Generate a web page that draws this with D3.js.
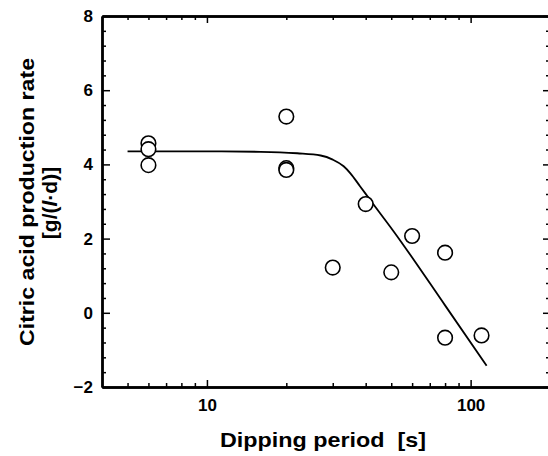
<!DOCTYPE html>
<html lang="en">
<head>
  <meta charset="UTF-8">
  <title>Citric acid production rate</title>
  <script src="https://d3js.org/d3.v7.min.js"></script>
  <style>
    body { margin: 0; background: #fff; }
    text { font-family: "Liberation Sans", Arial, sans-serif; font-weight: bold; fill: #000; }
  </style>
</head>
<body>
  <svg width="548" height="456" id="chart"></svg>
  <script>
    // measured points
    const dipping = [6, 6, 6, 20, 20, 20, 30, 40, 50, 60, 80, 80, 110];
    const rate = [4.57, 4.41, 3.98, 5.29, 3.9, 3.85, 1.22, 2.93, 1.09, 2.07, 1.62, -0.67, -0.61];

    // fitted curve
    const curveX = [5, 10, 16, 22, 27, 30, 33, 35, 38, 41.6, 51, 80, 115];
    const curveY = [4.35, 4.35, 4.34, 4.3, 4.24, 4.13, 3.95, 3.76, 3.42, 3.04, 2.2, 0.2, -1.43];

    // ticks
    const xMajor = [10, 100];
    const xMinor = [5, 6, 7, 8, 9, 20, 30, 40, 50, 60, 70, 80, 90];
    const yMajor = [-2, 0, 2, 4, 6, 8];
    const yMinor = [-1.6, -1.2, -0.8, -0.4, 0.4, 0.8, 1.2, 1.6, 2.4, 2.8, 3.2, 3.6,
      4.4, 4.8, 5.2, 5.6, 6.4, 6.8, 7.2, 7.6];

    const svg = d3.select('#chart');
    const margin = { top: 16, right: -2, bottom: 69, left: 102 };
    const width = +svg.attr('width');
    const height = +svg.attr('height');
    const innerWidth = width - margin.left - margin.right;
    const innerHeight = height - margin.top - margin.bottom;

    const x = d3.scaleLog().domain([4, 200]).range([0, innerWidth]);
    const y = d3.scaleLinear().domain([-2, 8]).range([innerHeight, 0]);

    const g = svg.append('g')
      .attr('transform', `translate(${margin.left}, ${margin.top})`);

    function styleAxis(sel) {
      sel.select('.domain').attr('stroke', '#000').attr('stroke-width', 2.4);
      sel.selectAll('.tick line').attr('stroke', '#000').attr('stroke-width', 1.5);
      sel.selectAll('.tick text').attr('font-size', 17).attr('fill', '#000');
    }

    // bottom
    g.append('g').attr('transform', `translate(0, ${innerHeight})`)
      .call(d3.axisBottom(x).tickValues(xMajor).tickFormat(d3.format('d'))
        .tickSizeInner(-7).tickSizeOuter(0).tickPadding(12))
      .call(styleAxis);
    g.append('g').attr('transform', `translate(0, ${innerHeight})`)
      .call(d3.axisBottom(x).tickValues(xMinor).tickFormat('').tickSizeInner(-4).tickSizeOuter(0))
      .call(styleAxis);

    // top
    g.append('g')
      .call(d3.axisTop(x).tickValues(xMajor).tickFormat('').tickSizeInner(-7).tickSizeOuter(0))
      .call(styleAxis);
    g.append('g')
      .call(d3.axisTop(x).tickValues(xMinor).tickFormat('').tickSizeInner(-4).tickSizeOuter(0))
      .call(styleAxis);

    // left
    g.append('g')
      .call(d3.axisLeft(y).tickValues(yMajor).tickFormat(d3.format('d'))
        .tickSizeInner(-8).tickSizeOuter(0).tickPadding(9))
      .call(styleAxis);
    g.append('g')
      .call(d3.axisLeft(y).tickValues(yMinor).tickFormat('').tickSizeInner(-4).tickSizeOuter(0))
      .call(styleAxis);

    // right
    g.append('g').attr('transform', `translate(${innerWidth}, 0)`)
      .call(d3.axisRight(y).tickValues(yMajor).tickFormat('').tickSizeInner(-7).tickSizeOuter(0))
      .call(styleAxis);
    g.append('g').attr('transform', `translate(${innerWidth}, 0)`)
      .call(d3.axisRight(y).tickValues(yMinor).tickFormat('').tickSizeInner(-4).tickSizeOuter(0))
      .call(styleAxis);

    // curve
    const line = d3.line()
      .x(d => x(d[0]))
      .y(d => y(d[1]))
      .curve(d3.curveMonotoneX);
    g.append('path')
      .datum(d3.zip(curveX, curveY))
      .attr('d', line)
      .attr('fill', 'none')
      .attr('stroke', '#000')
      .attr('stroke-width', 1.8);

    // points
    g.selectAll('circle.pt')
      .data(d3.zip(dipping, rate))
      .join('circle')
      .attr('class', 'pt')
      .attr('cx', d => x(d[0]))
      .attr('cy', d => y(d[1]))
      .attr('r', 7.3)
      .attr('fill', '#fff')
      .attr('stroke', '#000')
      .attr('stroke-width', 1.6);

    // axis titles
    svg.append('text')
      .attr('x', 323)
      .attr('y', 447)
      .attr('text-anchor', 'middle')
      .attr('font-size', 21)
      .attr('textLength', 206)
      .attr('lengthAdjust', 'spacingAndGlyphs')
      .style('white-space', 'pre')
      .text('Dipping period  [s]');

    svg.append('text')
      .attr('transform', 'translate(34, 202) rotate(-90)')
      .attr('text-anchor', 'middle')
      .attr('font-size', 21)
      .attr('textLength', 288)
      .attr('lengthAdjust', 'spacingAndGlyphs')
      .text('Citric acid production rate');

    const unit = svg.append('text')
      .attr('transform', 'translate(57, 203) rotate(-90)')
      .attr('text-anchor', 'middle')
      .attr('font-size', 21);
    unit.append('tspan').text('[g/(');
    unit.append('tspan').attr('font-style', 'italic').text('l');
    unit.append('tspan').text('\u00b7d)]');
  </script>
</body>
</html>
